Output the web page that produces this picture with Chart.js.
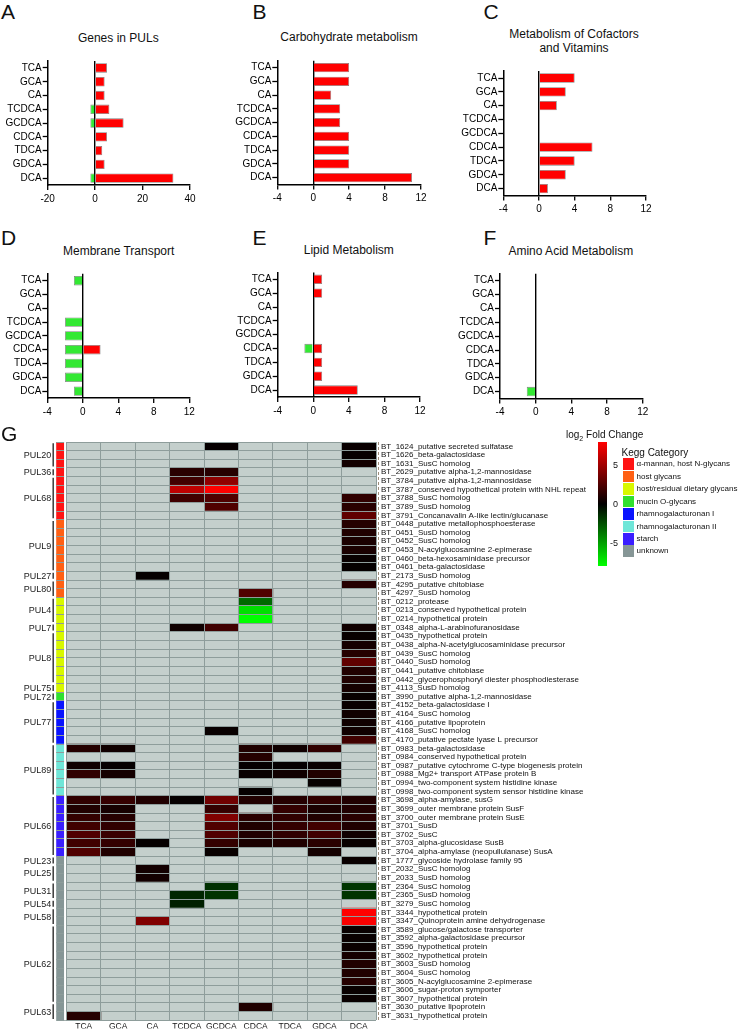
<!DOCTYPE html>
<html><head><meta charset="utf-8">
<script src="https://cdn.jsdelivr.net/npm/chart.js@4.4.1/dist/chart.umd.min.js"></script>
<style>
body{margin:0;background:#fff;width:742px;height:1030px;position:relative;overflow:hidden;font-family:"Liberation Sans",Arial,sans-serif;color:#111}
canvas{position:absolute}
.t{position:absolute;white-space:nowrap;transform:translate(-50%,-50%);font-size:12px;text-align:center;line-height:14px}
.L{position:absolute;font-size:21px;line-height:21px}
.lg{position:absolute;white-space:nowrap}
</style></head><body>
<script>
// ---------------- DATA ----------------
const bileAcids = ['TCA','GCA','CA','TCDCA','GCDCA','CDCA','TDCA','GDCA','DCA'];
// Panel bar values (number of genes up / down)
const pulUp    = [5,4,4,6,12,5,3,4,33];
const pulDown  = [null,null,null,-2,-2,null,null,null,-2];
const carbUp   = [4,4,2,3,3,4,4,4,11];
const cofUp    = [4,3,2,null,null,6,4,3,1];
const memUp    = [null,null,null,null,null,2,null,null,null];
const memDown  = [-1,null,null,-2,-2,-2,-2,-2,-1];
const lipUp    = [1,1,null,null,null,1,1,1,5];
const lipDown  = [null,null,null,null,null,-1,null,null,null];
const aminoDown= [null,null,null,null,null,null,null,null,-1];

// Heatmap rows
const geneLabels = [
'BT_1624_putative secreted sulfatase','BT_1626_beta-galactosidase','BT_1631_SusC homolog',
'BT_2629_putative alpha-1,2-mannosidase','BT_3784_putative alpha-1,2-mannosidase',
'BT_3787_conserved hypothetical protein with NHL repeat','BT_3788_SusC homolog','BT_3789_SusD homolog',
'BT_3791_Concanavalin A-like lectin/glucanase','BT_0448_putative metallophosphoesterase',
'BT_0451_SusD homolog','BT_0452_SusC homolog','BT_0453_N-acylglucosamine 2-epimerase',
'BT_0460_beta-hexosaminidase precursor','BT_0461_beta-galactosidase','BT_2173_SusD homolog',
'BT_4295_putative chitobiase','BT_4297_SusD homolog','BT_0212_protease',
'BT_0213_conserved hypothetical protein','BT_0214_hypothetical protein','BT_0348_alpha-L-arabinofuranosidase',
'BT_0435_hypothetical protein','BT_0438_alpha-N-acetylglucosaminidase precursor','BT_0439_SusC homolog',
'BT_0440_SusD homolog','BT_0441_putative chitobiase','BT_0442_glycerophosphoryl diester phosphodiesterase',
'BT_4113_SusD homolog','BT_3990_putative alpha-1,2-mannosidase','BT_4152_beta-galactosidase I',
'BT_4164_SusC homolog','BT_4166_putative lipoprotein','BT_4168_SusC homolog',
'BT_4170_putative pectate lyase L precursor','BT_0983_beta-galactosidase','BT_0984_conserved hypothetical protein',
'BT_0987_putative cytochrome C-type biogenesis protein','BT_0988_Mg2+ transport ATPase protein B',
'BT_0994_two-component system histidine kinase','BT_0998_two-component system sensor histidine kinase',
'BT_3698_alpha-amylase, susG','BT_3699_outer membrane protein SusF','BT_3700_outer membrane protein SusE',
'BT_3701_SusD','BT_3702_SusC','BT_3703_alpha-glucosidase SusB','BT_3704_alpha-amylase (neopullulanase) SusA',
'BT_1777_glycoside hydrolase family 95','BT_2032_SusC homolog','BT_2033_SusD homolog','BT_2364_SusC homolog',
'BT_2365_SusD homolog','BT_3279_SusC homolog','BT_3344_hypothetical protein',
'BT_3347_Quinoprotein amine dehydrogenase','BT_3589_glucose/galactose transporter',
'BT_3592_alpha-galactosidase precursor','BT_3596_hypothetical protein','BT_3602_hypothetical protein',
'BT_3603_SusD homolog','BT_3604_SusC homolog','BT_3605_N-acylglucosamine 2-epimerase',
'BT_3606_sugar-proton symporter','BT_3607_hypothetical protein','BT_3630_putative lipoprotein',
'BT_3631_hypothetical protein'];

const pulNames = ['PUL20','PUL36','PUL68','PUL9','PUL27','PUL80','PUL4','PUL7','PUL8','PUL75','PUL72','PUL77','PUL89','PUL66','PUL23','PUL25','PUL31','PUL54','PUL58','PUL62','PUL63'];
const pulSizes = [3,1,5,6,1,2,3,1,6,1,1,5,6,7,1,2,2,1,2,9,2];
const pulKegg  = [0,0,0,1,1,1,2,2,2,2,3,4,5,6,7,7,7,7,7,7,7];

const keggNames  = ['α-mannan, host N-glycans','host glycans','host/residual dietary glycans','mucin O-glycans','rhamnogalacturonan I','rhamnogalacturonan II','starch','unknown'];
const keggColors = ['#ff1414','#ff6014','#d8f800','#30e030','#0a14ff','#6fe6d8','#3a1eff','#869696'];

// log2 fold change per column (null = not significant), rows in geneLabels order
const _ = null;
const fcTCA = [
 _,_,_,_,_,_,_,_,_,_,  _,_,_,_,_,_,_,_,_,_,  _,_,_,_,_,_,_,_,_,_,
 _,_,_,_,_,1.15,_,0.5,1.5,_,  _,1.5,1.0,1.6,2.0,2.5,2.0,2.5,_,_,
 _,_,_,_,_,_,_,_,_,_,  _,_,_,_,_,_,1.15];
const fcGCA = [
 _,_,_,_,_,_,_,_,_,_,  _,_,_,_,_,_,_,_,_,_,  _,_,_,_,_,_,_,_,_,_,
 _,_,_,_,_,0.5,_,0.15,0.66,_,  _,1.65,0.7,1.2,1.5,1.8,1.6,1.0,_,_,
 _,_,_,_,_,_,_,_,_,_,  _,_,_,_,_,_,_];
const fcCA = [
 _,_,_,_,_,_,_,_,_,_,  _,_,_,_,_,0.15,_,_,_,_,  _,_,_,_,_,_,_,_,_,_,
 _,_,_,_,_,_,_,_,_,_,  _,1.0,_,_,_,_,0.15,_,_,0.6,
 0.6,_,_,_,_,4.0,_,_,_,_,  _,_,_,_,_,_,_];
const fcTCDCA = [
 _,_,_,1.3,2.0,6.0,2.0,_,_,_,  _,_,_,_,_,_,_,_,_,_,  _,0.5,_,_,_,_,_,_,_,_,
 _,_,_,_,_,_,_,_,_,_,  _,0.2,_,_,_,_,_,_,_,_,
 _,_,-1.2,-1.0,_,_,_,_,_,_,  _,_,_,_,_,_,_];
const fcGCDCA = [
 0.2,_,_,1.2,4.5,8,2.5,2.5,_,_,  _,_,_,_,_,_,_,_,_,_,  _,2.0,_,_,_,_,_,_,_,_,
 _,_,_,0.25,_,_,_,_,_,_,  _,3.5,1.6,4.0,2.5,2.5,1.6,0.25,_,_,
 _,-1.5,-1.6,_,_,_,_,_,_,_,  _,_,_,_,_,_,_];
const fcCDCA = [
 _,_,_,_,_,_,_,_,_,_,  _,_,_,_,_,_,_,2.5,-3.3,-7,  -8,_,_,_,_,_,_,_,_,_,
 _,_,_,_,_,1.0,1.15,0.15,0.25,_,  0.2,1.0,_,1.3,1.0,1.0,0.8,_,_,_,
 _,_,_,_,_,_,_,_,_,_,  _,_,_,_,_,1.0,_];
const fcTDCA = [
 _,_,_,_,_,_,_,_,_,_,  _,_,_,_,_,_,_,_,_,_,  _,_,_,_,_,_,_,_,_,_,
 _,_,_,_,_,0.5,_,0.15,0.5,_,  _,1.15,1.6,1.5,1.6,1.5,1.0,_,_,_,
 _,_,_,_,_,_,_,_,_,_,  _,_,_,_,_,_,_];
const fcGDCA = [
 _,_,_,_,_,_,_,_,_,_,  _,_,_,_,_,_,_,_,_,_,  _,_,_,_,_,_,_,_,_,_,
 _,_,_,_,_,1.5,_,0.25,1.0,0.2,  _,1.5,0.8,1.0,2.0,2.0,1.3,0.6,_,_,
 _,_,_,_,_,_,_,_,_,_,  _,_,_,_,_,_,_];
const fcDCA = [
 0.25,0.2,0.6,_,_,_,1.5,1.3,3.0,1.15,  1.0,0.8,0.8,0.25,0.15,_,1.15,_,_,_,
 _,0.5,0.25,0.66,1.15,3.0,1.0,1.0,0.66,0.25,
 0.25,0.5,0.5,0.5,2.0,_,_,_,_,_,  _,1.0,1.0,1.3,1.0,0.5,0.25,_,0.25,_,
 _,-1.65,-1.6,_,8,7.8,0.25,0.25,0.3,0.66,  1.0,1.0,1.15,0.25,0.25,_,_];
const fcColumns = [fcTCA,fcGCA,fcCA,fcTCDCA,fcGCDCA,fcCDCA,fcTDCA,fcGDCA,fcDCA];
const colorbarTicks = [5,0,-5];

// ---------------- RENDER ----------------
Chart.defaults.font.family = '"Liberation Sans", Arial, sans-serif';
Chart.defaults.color = '#000';

function addDiv(cls, html, x, y, extra){
  const d=document.createElement('div'); d.className=cls; d.innerHTML=html;
  d.style.left=x+'px'; d.style.top=y+'px'; if(extra) Object.assign(d.style, extra);
  document.body.appendChild(d); return d;
}
function mkCanvas(l,t,w,h){
  const c=document.createElement('canvas'); c.width=w; c.height=h;
  c.style.left=l+'px'; c.style.top=t+'px'; c.style.width=w+'px'; c.style.height=h+'px';
  document.body.appendChild(c); return c;
}

function barPanel(p, up, down){
  const cv = mkCanvas(p.cl, p.ct, p.cw, p.ch);
  const ds = [];
  const common = {borderColor:'#808080', borderWidth:0.8, barPercentage:0.68, categoryPercentage:1, grouped:false};
  if (up) ds.push(Object.assign({data: up, backgroundColor:'#ff0000'}, common));
  if (down) ds.push(Object.assign({data: down, backgroundColor:'#33e833'}, common));
  new Chart(cv, {
    type:'bar',
    data:{labels: bileAcids, datasets: ds},
    options:{
      indexAxis:'y', responsive:false, animation:false, events:[],
      layout:{padding:{top: p.top - p.ct, right: p.cl + p.cw - p.right, left:0, bottom:0}},
      plugins:{legend:{display:false}, tooltip:{enabled:false}},
      scales:{
        x:{type:'linear', min:p.min, max:p.max,
           ticks:{stepSize:p.step, font:{size:10}, color:'#000', padding:3},
           grid:{color: c => (c.tick && c.tick.value===0) ? '#000' : 'rgba(0,0,0,0)', lineWidth:1.4,
                 tickColor:'#000', tickLength:5, tickWidth:1.3},
           border:{color:'#000', width:1.5},
           afterFit: s => { s.height = p.ct + p.ch - p.bottom; }},
        y:{ticks:{font:{size:10}, color:'#000', padding:1, autoSkip:false},
           grid:{drawOnChartArea:false, offset:false, tickColor:'#000', tickLength:5, tickWidth:1.3},
           border:{color:'#000', width:1.5},
           afterFit: s => { s.width = p.left - p.cl; }}
      }
    }
  });
}

barPanel({cl:0,ct:48,cw:202,ch:160,left:47.7,right:190,top:61.1,bottom:185,min:-20,max:40,step:20}, pulUp, pulDown);
barPanel({cl:228,ct:48,cw:206,ch:160,left:277.3,right:421,top:60.8,bottom:184.5,min:-4,max:12,step:4}, carbUp, null);
barPanel({cl:455,ct:60,cw:203,ch:165,left:503.3,right:646,top:71.1,bottom:195.5,min:-4,max:12,step:4}, cofUp, null);
barPanel({cl:0,ct:262,cw:202,ch:165,left:47.3,right:189.3,top:273.8,bottom:398,min:-4,max:12,step:4}, memUp, memDown);
barPanel({cl:228,ct:262,cw:206,ch:165,left:277.7,right:420,top:272.4,bottom:397,min:-4,max:12,step:4}, lipUp, lipDown);
barPanel({cl:455,ct:262,cw:203,ch:165,left:500,right:642.7,top:273.8,bottom:398.5,min:-4,max:12,step:4}, null, aminoDown);

// titles and letters
addDiv('t','Genes in PULs',118.3,38.3);
addDiv('t','Carbohydrate metabolism',349,37.3);
addDiv('t','Metabolism of Cofactors<br>and Vitamins',574,41.2);
addDiv('t','Membrane Transport',118.7,250.7);
addDiv('t','Lipid Metabolism',348.8,250);
addDiv('t','Amino Acid Metabolism',570.8,250.7);
addDiv('L','A',1,0.5); addDiv('L','B',252.5,0.5); addDiv('L','C',483.5,0.5);
addDiv('L','D',1,227); addDiv('L','E',252.5,227); addDiv('L','F',483.5,227);
addDiv('L','G',1,423);

// ---------------- HEATMAP ----------------
function fcColor(v){
  if (v === null || v === undefined) return '#c4cfcc';
  const c = Math.round(255*Math.min(1, Math.abs(v)/8));
  return v > 0 ? `rgb(${c},0,0)` : `rgb(0,${c},0)`;
}
const rowKegg = [];
pulSizes.forEach((n,i)=>{ for(let k=0;k<n;k++) rowKegg.push(pulKegg[i]); });

const hmDatasets = [{
  data: geneLabels.map(g => ({y:g, x:[-0.3,-0.07]})),
  backgroundColor: rowKegg.map(k => keggColors[k]),
  borderWidth:0, barPercentage:1, categoryPercentage:1, grouped:false
}];
fcColumns.forEach((col, c) => {
  hmDatasets.push({
    data: geneLabels.map(g => ({y:g, x:[c, c+1]})),
    backgroundColor: col.map(fcColor),
    borderWidth:0, barPercentage:1, categoryPercentage:1, grouped:false
  });
});

const pulPlugin = {
  id:'pul',
  afterDraw(chart){
    const y = chart.scales.y, a = chart.chartArea, ctx = chart.ctx;
    const h = y.getPixelForTick(1) - y.getPixelForTick(0);
    let start = 0;
    ctx.save();
    // clear the gap between the Kegg strip and the heatmap
    const xs = chart.scales.x;
    ctx.fillStyle = '#fff';
    ctx.fillRect(xs.getPixelForValue(-0.07), a.top, xs.getPixelForValue(0) - xs.getPixelForValue(-0.07) - 0.5, a.bottom - a.top);
    pulNames.forEach((name,i) => {
      const n = pulSizes[i];
      const t = y.getPixelForTick(start) - h/2, b = y.getPixelForTick(start+n-1) + h/2;
      ctx.strokeStyle = '#3a3a3a'; ctx.lineWidth = 1.5;
      ctx.beginPath(); ctx.moveTo(a.left-3, t+1.3); ctx.lineTo(a.left-3, b-1.3); ctx.stroke();
      ctx.fillStyle = '#222'; ctx.font = '9px "Liberation Sans", Arial, sans-serif';
      ctx.textAlign = 'right'; ctx.textBaseline = 'middle';
      ctx.fillText(name, a.left-5, (t+b)/2 + 0.5);
      start += n;
    });
    ctx.strokeStyle = '#9c8c7a'; ctx.lineWidth = 1; ctx.setLineDash([3,2]);
    ctx.beginPath(); ctx.moveTo(a.right+2.5, a.top); ctx.lineTo(a.right+2.5, a.bottom); ctx.stroke();
    ctx.restore();
  }
};

const hm = mkCanvas(0, 428, 600, 602);
new Chart(hm, {
  type:'bar',
  data:{labels: geneLabels, datasets: hmDatasets},
  plugins:[pulPlugin],
  options:{
    indexAxis:'y', responsive:false, animation:false, events:[],
    layout:{padding:{left:56.2, top:14, right:0, bottom:0}},
    plugins:{legend:{display:false}, tooltip:{enabled:false}},
    scales:{
      x:{type:'linear', min:-0.3, max:9, position:'bottom',
         afterBuildTicks: s => { s.ticks = bileAcids.map((b,i)=>({value:i+0.5})); },
         ticks:{callback:(v,i)=>bileAcids[i], autoSkip:false, maxRotation:0, font:{size:8.5}, color:'#111', padding:1},
         grid:{display:false, drawTicks:false}, border:{display:false},
         afterFit: s => { s.height = 8.3; }},
      xg:{type:'linear', min:-0.3, max:9, position:'bottom',
         afterBuildTicks: s => { s.ticks = [0,1,2,3,4,5,6,7,8,9].map(v=>({value:v})); },
         ticks:{display:false}, grid:{color:'#8e9d9b', lineWidth:1, drawTicks:false, z:1}, border:{display:false},
         afterFit: s => { s.height = 0; }},
      y:{type:'category', position:'right', offset:true,
         ticks:{autoSkip:false, font:{size:8}, color:'#111', padding:5},
         grid:{offset:true, color:'#8e9d9b', lineWidth:1, drawTicks:false, z:1}, border:{display:false},
         afterFit: s => { s.width = 224; }}
    }
  }
});

// ---------------- LEGENDS ----------------
addDiv('lg','log<sub style="font-size:7px">2</sub> Fold Change',566,428,{fontSize:'10px',lineHeight:'14px'});
addDiv('lg','',598,441.7,{width:'8.7px',height:'124px',background:'linear-gradient(to bottom,#ff0000 0%,#000000 50%,#00ff00 100%)'});
colorbarTicks.forEach(v=>{
  const y = 503.7 - v*7.8;
  addDiv('lg', String(v), 608, y-6, {fontSize:'9px',lineHeight:'12px',width:'10px',textAlign:'right'});
});
addDiv('lg','Kegg Category',621.5,446,{fontSize:'10px',lineHeight:'14px'});
keggNames.forEach((n,i)=>{
  const top = 458.3 + i*12.45;
  addDiv('lg','',622.7,top,{width:'11.3px',height:'11.7px',background:keggColors[i]});
  addDiv('lg',n,636.5,top,{fontSize:'8px',lineHeight:'11.7px'});
});
</script>
</body></html>
